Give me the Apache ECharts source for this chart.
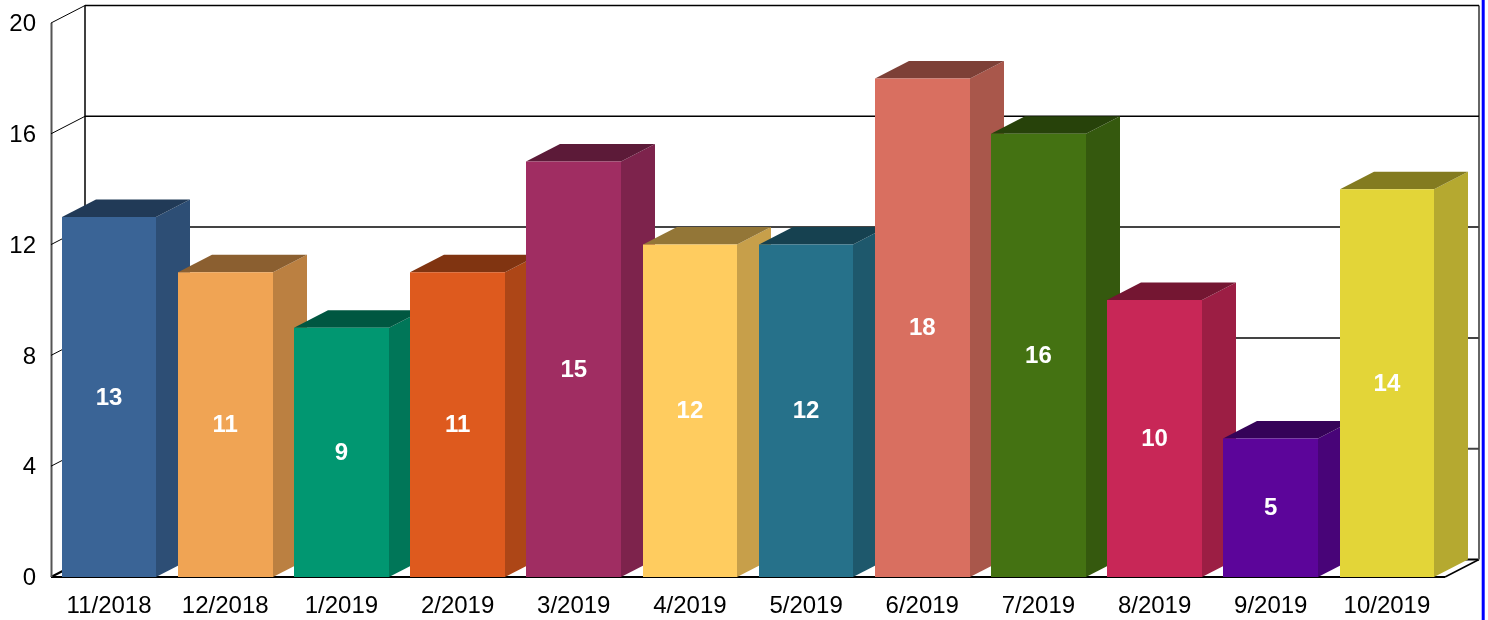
<!DOCTYPE html>
<html>
<head>
<meta charset="utf-8">
<title>Chart</title>
<style>
html, body { margin: 0; padding: 0; background: #fff; }
#chart { width: 1488px; height: 620px; }
</style>
<script src="https://cdn.jsdelivr.net/npm/echarts@6/dist/echarts.min.js"></script>
</head>
<body>
<div id="chart"></div>
<script>
var months = ['11/2018', '12/2018', '1/2019', '2/2019', '3/2019', '4/2019', '5/2019', '6/2019', '7/2019', '8/2019', '9/2019', '10/2019'];
var counts = [13, 11, 9, 11, 15, 12, 12, 18, 16, 10, 5, 14];
var yTicks = [0, 4, 8, 12, 16, 20];
var frontColors = ['#3A6496', '#F0A454', '#019771', '#DE5A1E', '#A02D62', '#FFCC5F', '#26718A', '#D96F60', '#447212', '#C82757', '#5C059A', '#E3D538'];
var sideColors = ['#2D4E75', '#BB8041', '#007658', '#AD4617', '#7D234C', '#C79F4A', '#1E586C', '#A9574B', '#35590E', '#9C1E44', '#480478', '#B5A930'];
var topColors = ['#213A57', '#8B5F30', '#005741', '#803411', '#5C1A38', '#937637', '#164150', '#7D4037', '#27420A', '#741632', '#350358', '#837B20'];

// depth of the fake 3d box, in pixels
var depthX = 34;
var depthY = 17.5;

var chart = echarts.init(document.getElementById('chart'));

function renderWall(params, api) {
	var sys = params.coordSys;
	var tick = api.value(0);
	var y = api.coord([0, tick])[1];
	var left = sys.x, right = sys.x + sys.width;
	var isFloor = tick === 0;
	// upper grid lines come out black, the lower ones greyer and wider
	var gridStyle = tick >= 16 ? { stroke : '#000', lineWidth : 1.5 } : { stroke : '#444', lineWidth : 2 };
	if (isFloor) {
		gridStyle = { stroke : '#000', lineWidth : 2 };
	}
	var children = [
		{
			type : 'line',
			shape : { x1 : left, y1 : y, x2 : left + depthX, y2 : y - depthY },
			style : { stroke : '#000', lineWidth : isFloor ? 2 : 1 }
		},
		{
			type : 'line',
			shape : { x1 : left + depthX, y1 : y - depthY, x2 : right + depthX, y2 : y - depthY },
			style : gridStyle
		}
	];
	if (isFloor) {
		children.push({
			type : 'line',
			shape : { x1 : left, y1 : y, x2 : right, y2 : y },
			style : { stroke : '#000', lineWidth : 2 }
		});
		children.push({
			type : 'line',
			shape : { x1 : right, y1 : y, x2 : right + depthX, y2 : y - depthY },
			style : { stroke : '#000', lineWidth : 1.5 }
		});
		// the three uprights
		children.push({
			type : 'line',
			shape : { x1 : left + 0.5, y1 : y, x2 : left + 0.5, y2 : sys.y },
			style : { stroke : '#555', lineWidth : 2 }
		});
		children.push({
			type : 'line',
			shape : { x1 : left + depthX, y1 : y - depthY, x2 : left + depthX, y2 : sys.y - depthY },
			style : { stroke : '#000', lineWidth : 1.5 }
		});
		children.push({
			type : 'line',
			shape : { x1 : right + depthX, y1 : y - depthY, x2 : right + depthX, y2 : sys.y - depthY },
			style : { stroke : '#666', lineWidth : 2 }
		});
	}
	return { type : 'group', children : children };
}

function renderBox(params, api) {
	var i = api.value(0);
	var top = api.coord([i, api.value(1)]);
	var base = api.coord([i, 0]);
	var w = api.size([1, 0])[0] * 0.815;
	var x0 = Math.round(top[0] - w / 2);
	var x1 = Math.round(top[0] + w / 2);
	return {
		type : 'group',
		children : [
			{
				type : 'polygon',
				shape : { points : [[x1, top[1]], [x1 + depthX, top[1] - depthY], [x1 + depthX, base[1] - depthY], [x1, base[1]]] },
				style : { fill : sideColors[i] }
			},
			{
				type : 'polygon',
				shape : { points : [[x0, top[1]], [x0 + depthX, top[1] - depthY], [x1 + depthX, top[1] - depthY], [x1, top[1]]] },
				style : { fill : topColors[i] }
			},
			{
				type : 'rect',
				shape : { x : x0, y : top[1], width : x1 - x0, height : base[1] - top[1] },
				style : { fill : frontColors[i] }
			},
			{
				type : 'text',
				x : top[0],
				y : (top[1] + base[1]) / 2 + 1,
				style : {
					text : String(api.value(1)),
					fill : '#fff',
					font : 'bold 24px "Liberation Sans", Arial, sans-serif',
					align : 'center',
					verticalAlign : 'middle'
				}
			}
		]
	};
}

var boxData = [];
for (var i = 0; i < counts.length; i++) {
	boxData.push([i, counts[i]]);
}

var option = {
	animation : false,
	backgroundColor : '#fff',
	textStyle : { fontFamily : '"Liberation Sans", Arial, sans-serif' },
	grid : { left : 51, top : 23, width : 1394, height : 554 },
	xAxis : {
		type : 'category',
		data : months,
		axisLine : { show : false },
		axisTick : { show : false },
		axisLabel : { color : '#000', fontSize : 24, margin : 17, interval : 0 }
	},
	yAxis : {
		type : 'value',
		min : 0,
		max : 20,
		interval : 4,
		axisLine : { show : false },
		axisTick : { show : false },
		splitLine : { show : false },
		axisLabel : {
			formatter : '{t|{value}}',
			margin : 15,
			rich : { t : { color : '#000', fontSize : 24, padding : [3, 0, 0, 0] } }
		}
	},
	series : [
		{
			type : 'custom',
			silent : true,
			renderItem : renderWall,
			data : yTicks.map(function(t) { return [t]; }),
			encode : { y : 0 },
			clip : false,
			z : 1
		},
		{
			type : 'custom',
			renderItem : renderBox,
			data : boxData,
			encode : { x : 0, y : 1 },
			clip : false,
			z : 2
		}
	],
	graphic : [
		{
			type : 'line',
			shape : { x1 : 1483.2, y1 : 0, x2 : 1483.2, y2 : 620 },
			style : { stroke : '#0000ff', lineWidth : 3 }
		}
	]
};
chart.setOption(option);
</script>
</body>
</html>
